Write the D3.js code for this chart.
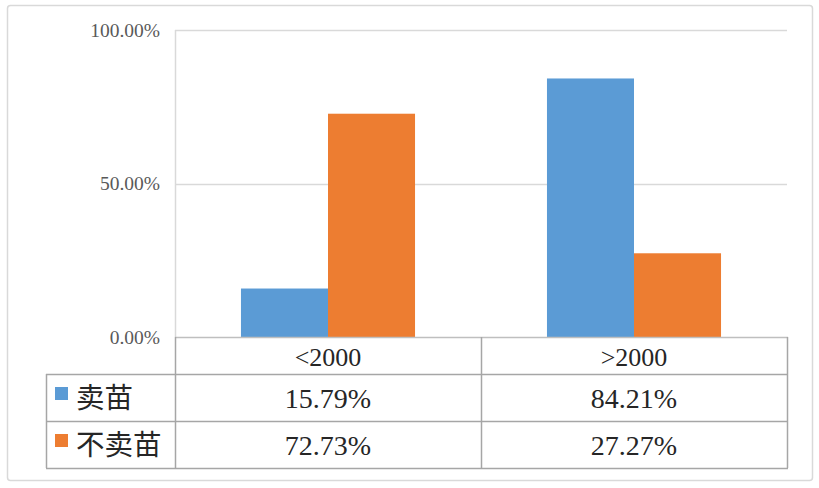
<!DOCTYPE html>
<html>
<head>
<meta charset="utf-8">
<script src="https://cdn.jsdelivr.net/npm/d3@7"></script>
<style>
  html, body { margin: 0; padding: 0; background: #fff; }
  svg { display: block; }
</style>
</head>
<body>
<svg id="chart" width="819" height="488"></svg>
<script>
const categories = ["<2000", ">2000"];
const seriesNames = ["卖苗", "不卖苗"];
const sellValues = [0.1579, 0.8421];
const noSellValues = [0.7273, 0.2727];
const yTicks = [0, 0.5, 1];
const colors = ["#5b9bd5", "#ed7d31"];

const seriesValues = [sellValues, noSellValues];
const svg = d3.select("#chart");

const plotL = 175, plotR = 787, plotT = 30, plotB = 337;
const tableL = 46, tableR = 788;
const rowEdges = [337, 374, 421, 468];

// outer frame
svg.append("rect").attr("x", 7.5).attr("y", 5.5).attr("width", 805).attr("height", 475)
  .attr("rx", 3).attr("fill", "#fff").attr("stroke", "#d9d9d9").attr("stroke-width", 1.5);

const x = d3.scaleBand().domain(categories).range([plotL, plotR]).paddingInner(0).paddingOuter(0);
const xSub = d3.scaleBand().domain(seriesNames).range([0, x.bandwidth()]).paddingInner(0).paddingOuter(0.758);
const y = d3.scaleLinear().domain([0, 1]).range([plotB, plotT]);

// gridlines
svg.append("g").selectAll("line").data(yTicks.filter(t => t > 0)).join("line")
  .attr("x1", plotL).attr("x2", plotR)
  .attr("y1", d => Math.round(y(d)) + 0.5).attr("y2", d => Math.round(y(d)) + 0.5)
  .attr("stroke", "#d9d9d9").attr("stroke-width", 1.5);

// left axis line (plot part)
svg.append("line").attr("x1", plotL + 0.5).attr("x2", plotL + 0.5)
  .attr("y1", plotT).attr("y2", plotB).attr("stroke", "#d9d9d9").attr("stroke-width", 1.5);

const serif = "'Liberation Serif', 'DejaVu Serif', serif";
// tick labels
const fmt = d3.format(".2%");
svg.append("g").selectAll("text").data(yTicks).join("text")
  .attr("x", 160).attr("y", d => y(d) + 6.5)
  .attr("text-anchor", "end")
  .attr("font-family", serif)
  .attr("font-size", 19.5).attr("fill", "#595959")
  .text(d => fmt(d));

// bars
const groups = svg.append("g").selectAll("g").data(categories).join("g")
  .attr("transform", d => `translate(${x(d)},0)`);
groups.selectAll("rect").data((c, ci) => seriesNames.map((s, si) => ({ s, si, v: seriesValues[si][ci] })))
  .join("rect")
  .attr("x", d => xSub(d.s)).attr("width", xSub.bandwidth())
  .attr("y", d => y(d.v)).attr("height", d => y(0) - y(d.v))
  .attr("fill", d => colors[d.si]);

// table lines
const tl = svg.append("g").attr("stroke", "#a6a6a6").attr("stroke-width", 1.5);
tl.append("line").attr("x1", plotL).attr("x2", tableR).attr("y1", plotB + 0.5).attr("y2", plotB + 0.5).attr("stroke", "#bfbfbf");
rowEdges.slice(1).forEach(ry => {
  tl.append("line").attr("x1", tableL).attr("x2", tableR).attr("y1", ry + 0.5).attr("y2", ry + 0.5);
});
tl.append("line").attr("x1", tableL + 0.5).attr("x2", tableL + 0.5).attr("y1", rowEdges[1]).attr("y2", rowEdges[3]);
tl.append("line").attr("x1", plotL + 0.5).attr("x2", plotL + 0.5).attr("y1", plotB).attr("y2", rowEdges[3]);
categories.forEach((c, i) => {
  const xr = x(c) + x.bandwidth();
  tl.append("line").attr("x1", xr + 0.5).attr("x2", xr + 0.5).attr("y1", plotB).attr("y2", rowEdges[3]);
});

// category header
svg.append("g").selectAll("text").data(categories).join("text")
  .attr("x", d => x(d) + x.bandwidth() / 2).attr("y", 366)
  .attr("text-anchor", "middle").attr("font-family", serif)
  .attr("font-size", 26).attr("fill", "#262626")
  .text(d => d);

// rows
seriesNames.forEach((s, si) => {
  const top = rowEdges[si + 1], bot = rowEdges[si + 2];
  const cy = (top + bot) / 2;
  svg.append("rect").attr("x", 55).attr("y", cy - 10.5).attr("width", 13).attr("height", 13)
    .attr("fill", colors[si]);
  svg.append("text").attr("x", 76).attr("y", cy + 10)
    .attr("font-family", "'Noto Sans CJK SC', sans-serif").attr("font-size", 28.5)
    .attr("fill", "#262626").text(s);
  svg.append("g").selectAll("text").data(categories).join("text")
    .attr("x", d => x(d) + x.bandwidth() / 2).attr("y", cy + 10)
    .attr("text-anchor", "middle").attr("font-family", serif)
    .attr("font-size", 28).attr("fill", "#262626")
    .text((d, ci) => fmt(seriesValues[si][ci]));
});
</script>
</body>
</html>
